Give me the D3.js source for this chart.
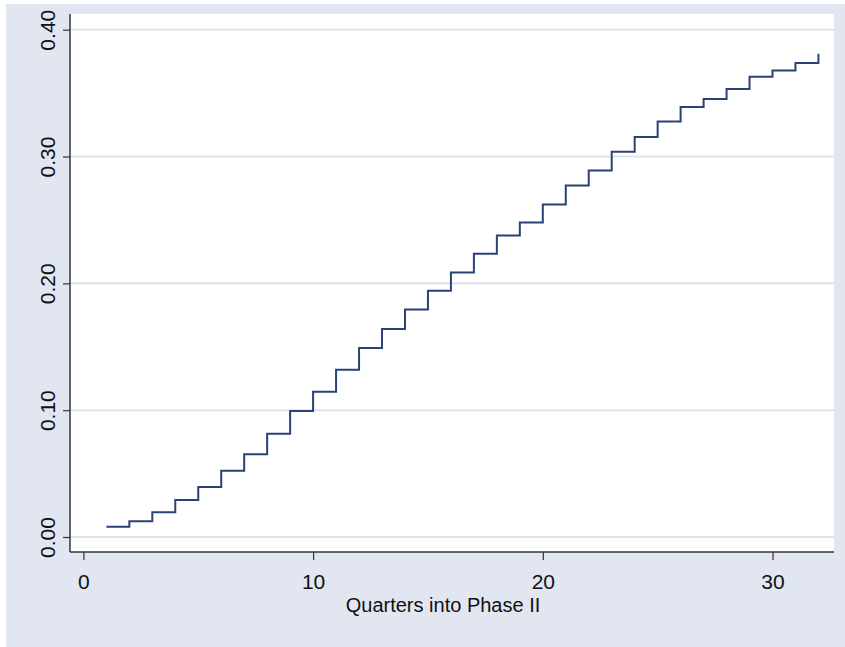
<!DOCTYPE html>
<html>
<head>
<meta charset="utf-8">
<script src="https://cdn.jsdelivr.net/npm/d3@7"></script>
<style>
  html, body { margin: 0; padding: 0; background: #ffffff; }
  svg { display: block; }
  text { font-family: "Liberation Sans", Arial, Helvetica, sans-serif; fill: #111; }
</style>
</head>
<body>
<svg id="chart" width="845" height="647"></svg>
<script>
// ---- data ----
const quarters = [1, 2, 3, 4, 5, 6, 7, 8, 9, 10, 11, 12, 13, 14, 15, 16,
                  17, 18, 19, 20, 21, 22, 23, 24, 25, 26, 27, 28, 29, 30, 31, 32];
const hazard = [0.0081, 0.0124, 0.0195, 0.0292, 0.0394, 0.0523, 0.0652, 0.0815,
                0.0994, 0.1146, 0.1318, 0.1490, 0.1640, 0.1793, 0.1941, 0.2085,
                0.2233, 0.2377, 0.2480, 0.2622, 0.2772, 0.2890, 0.3037, 0.3153,
                0.3277, 0.3390, 0.3453, 0.3532, 0.3629, 0.3679, 0.3737, 0.3810];
const xTicks = [0, 10, 20, 30];
const yTicks = [0, 0.1, 0.2, 0.3, 0.4];
const xTitle = "Quarters into Phase II";

// ---- layout ----
const svg = d3.select("#chart");
const W = 845, H = 647;
const plot = { left: 70, right: 834, top: 14, bottom: 552 };

svg.append("rect").attr("x", 6).attr("y", 4).attr("width", W - 6).attr("height", H - 4)
  .attr("fill", "#E1E6F0");
svg.append("rect").attr("x", plot.left).attr("y", plot.top)
  .attr("width", plot.right - plot.left).attr("height", plot.bottom - plot.top)
  .attr("fill", "#ffffff");

const x = d3.scaleLinear().domain([0, 30]).range([83.4, 772.5]);
const y = d3.scaleLinear().domain([0, 0.4]).range([537, 29.7]);

// gridlines
svg.append("g").selectAll("line").data(yTicks).join("line")
  .attr("x1", plot.left).attr("x2", plot.right)
  .attr("y1", d => y(d)).attr("y2", d => y(d))
  .attr("stroke", "#DEE4EF").attr("stroke-width", 2);

// step line
const pts = quarters.map((q, i) => [q, hazard[i]]);
const line = d3.line().x(d => x(d[0])).y(d => y(d[1])).curve(d3.curveStepAfter);
svg.append("path").datum(pts).attr("d", line)
  .attr("fill", "none").attr("stroke", "#2A4274").attr("stroke-width", 2);

// y axis
const yAxis = d3.axisLeft(y).tickValues(yTicks).tickFormat(d3.format(".2f"))
  .tickSize(7).tickSizeOuter(0).tickPadding(0);
const gy = svg.append("g").attr("transform", `translate(${plot.left},0)`).call(yAxis);
gy.select(".domain").remove();
gy.selectAll(".tick line").attr("stroke", "#333").attr("stroke-width", 1.2);
gy.selectAll(".tick text")
  .attr("transform", "translate(-15,0) rotate(-90)")
  .attr("x", 0).attr("y", 0).attr("dy", 0)
  .attr("text-anchor", "middle")
  .style("font-size", "21px").style("fill", "#111");
svg.append("line").attr("x1", plot.left).attr("x2", plot.left)
  .attr("y1", plot.top).attr("y2", plot.bottom)
  .attr("stroke", "#333").attr("stroke-width", 1.5);

// x axis
const xAxis = d3.axisBottom(x).tickValues(xTicks).tickFormat(d3.format("d"))
  .tickSize(8).tickSizeOuter(0).tickPadding(4);
const gx = svg.append("g").attr("transform", `translate(0,${plot.bottom})`).call(xAxis);
gx.select(".domain").remove();
gx.selectAll(".tick line").attr("stroke", "#333").attr("stroke-width", 1.2);
gx.selectAll(".tick text").attr("dy", 0).attr("y", 37)
  .style("font-size", "21px").style("fill", "#111");
svg.append("line").attr("x1", plot.left).attr("x2", plot.right)
  .attr("y1", plot.bottom).attr("y2", plot.bottom)
  .attr("stroke", "#333").attr("stroke-width", 1.5);

svg.append("text").attr("x", 443).attr("y", 612).attr("text-anchor", "middle")
  .style("font-size", "20px").text(xTitle);
</script>
</body>
</html>
